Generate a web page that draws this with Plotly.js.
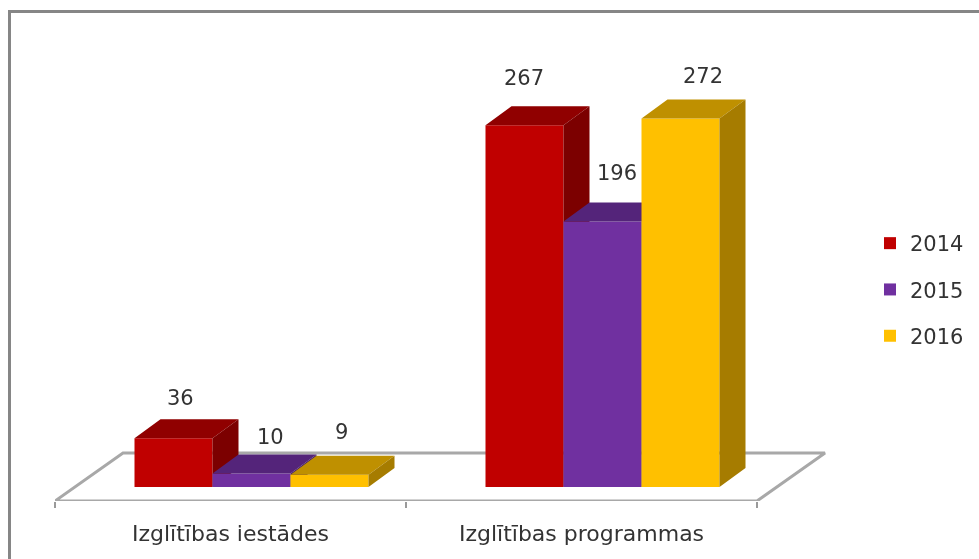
<!DOCTYPE html>
<html>
<head>
<meta charset="utf-8">
<script src="https://cdn.plot.ly/plotly-3.0.1.min.js"></script>
<style>html,body{margin:0;padding:0;background:#fff;overflow:hidden}#chart{width:979px;height:559px;filter:blur(0.45px)}</style>
</head>
<body>
<div id="chart"></div>
<script>
const categories = ["Izglītības iestādes", "Izglītības programmas"];
const years = ["2014", "2015", "2016"];
const values2014 = [36, 267];
const values2015 = [10, 196];
const values2016 = [9, 272];

const allValues = [values2014, values2015, values2016];
const frontColors = ["#C00000", "#7030A0", "#FFC000"];
const topColors = ["#900000", "#54247A", "#BF9000"];
const sideColors = ["#7C0000", "#482068", "#A67C00"];

// Projection constants
const W = 979, H = 559;
const axisLeftPx = 55, axisEndPx = 757, domainRightPx = 835, axisYPx = 501, plotTopPx = 60;
const pxPerX = (axisEndPx - axisLeftPx) / 2;
const pxPerY = 1.355;
const baseYPx = 487;
const barW = 78 / pxPerX;
const clusterShift = 21 / pxPerX;
const depthX = 26 / pxPerX, depthY = 19 / pxPerY;
const floorX = 68 / pxPerX, floorY = 48 / pxPerY;
const yMin = -(axisYPx - baseYPx) / pxPerY;
const yMax = yMin + (axisYPx - plotTopPx) / pxPerY;
const labelShifts = [[[7, 40], [19, 36], [12, 43]], [[-1, 47], [14, 48], [22, 42]]];
const tickPositions = [0, 1, 2];
const catCenters = [0.5, 1.5];
const FONT = "DejaVu Sans, sans-serif";

const xAxes = ["x2", "x3", "x4"];
const traces = [];

// floor outline, in the lowest layer, behind every bar
traces.push({
  type: "scatter", mode: "lines", x: [0, floorX, 2 + floorX, 2, 0],
  y: [yMin, yMin + floorY, yMin + floorY, yMin, yMin], xaxis: "x", yaxis: "y",
  line: { color: "#A8A8A8", width: 3 }, cliponaxis: false, hoverinfo: "skip", showlegend: false
});

allValues.forEach((vals, s) => {
  const xs = catCenters.map(c => c + clusterShift + (s - 1) * barW);
  const topX = [], topY = [], sideX = [], sideY = [];
  vals.forEach((v, i) => {
    const l = xs[i] - barW / 2, r = xs[i] + barW / 2;
    topX.push(l, l + depthX, r + depthX, r, l, null);
    topY.push(v, v + depthY, v + depthY, v, v, null);
    sideX.push(r, r + depthX, r + depthX, r, r, null);
    sideY.push(v, v + depthY, depthY, 0, v, null);
  });
  traces.push({
    type: "scatter", mode: "lines", x: topX, y: topY, xaxis: xAxes[s], yaxis: "y",
    fill: "toself", fillcolor: topColors[s], line: { width: 0, color: topColors[s] },
    cliponaxis: false, hoverinfo: "skip", showlegend: false
  });
  traces.push({
    type: "scatter", mode: "lines", x: sideX, y: sideY, xaxis: xAxes[s], yaxis: "y",
    fill: "toself", fillcolor: sideColors[s], line: { width: 0, color: sideColors[s] },
    cliponaxis: false, hoverinfo: "skip", showlegend: false
  });
  traces.push({
    type: "bar", name: years[s], x: xs, y: vals, width: barW, xaxis: xAxes[s], yaxis: "y",
    marker: { color: frontColors[s], line: { width: 0 } }, legendgroup: years[s], cliponaxis: false
  });
});

const annotations = [];
allValues.forEach((vals, s) => {
  vals.forEach((v, i) => {
    annotations.push({
      xref: xAxes[s], yref: "y", x: catCenters[i] + clusterShift + (s - 1) * barW, y: v,
      text: String(v), showarrow: false, xanchor: "center", yanchor: "middle",
      xshift: labelShifts[i][s][0], yshift: labelShifts[i][s][1],
      font: { family: FONT, size: 21, color: "#333" }
    });
  });
});

const xRange = [0, (domainRightPx - axisLeftPx) / pxPerX];
const xDomain = [axisLeftPx / W, domainRightPx / W];
const hiddenX = (extra) => Object.assign({
  overlaying: "x", range: xRange, type: "linear", anchor: "y", side: "bottom",
  showticklabels: false, ticks: "", showline: false, showgrid: false, zeroline: false
}, extra);
const layout = {
  width: W, height: H, margin: { l: 0, r: 0, t: 0, b: 0 },
  paper_bgcolor: "#fff", plot_bgcolor: "rgba(0,0,0,0)", barmode: "overlay",
  font: { family: FONT, size: 20, color: "#333" },
  xaxis: {
    domain: xDomain, range: xRange, type: "linear", anchor: "y",
    tickmode: "array", tickvals: tickPositions, ticktext: ["", "", ""], ticks: "outside", ticklen: 6, tickwidth: 2, tickcolor: "#9A9A9A",
    showline: false, showgrid: false, zeroline: false
  },
  xaxis2: hiddenX({
    tickmode: "array", tickvals: catCenters, ticktext: categories, showticklabels: true, ticklabelstandoff: 17,
    tickfont: { family: FONT, size: 22, color: "#333" }
  }),
  xaxis3: hiddenX({}),
  xaxis4: hiddenX({}),
  yaxis: {
    domain: [(H - axisYPx) / H, (H - plotTopPx) / H], range: [yMin, yMax], visible: false
  },
  showlegend: true,
  legend: {
    x: 870 / W, y: 1 - 223 / H, xanchor: "left", yanchor: "top", tracegroupgap: 16,
    bgcolor: "rgba(0,0,0,0)", font: { family: FONT, size: 21, color: "#333" }, itemclick: false, itemdoubleclick: false
  },
  annotations: annotations,
  shapes: [{
    type: "path", xref: "paper", yref: "paper",
    path: `M ${9.5 / W} 0 L ${9.5 / W} ${1 - 11.5 / H} L 1 ${1 - 11.5 / H}`,
    line: { color: "#868686", width: 3 }
  }]
};
Plotly.newPlot("chart", traces, layout, { displayModeBar: false, staticPlot: true });
</script>
</body>
</html>
